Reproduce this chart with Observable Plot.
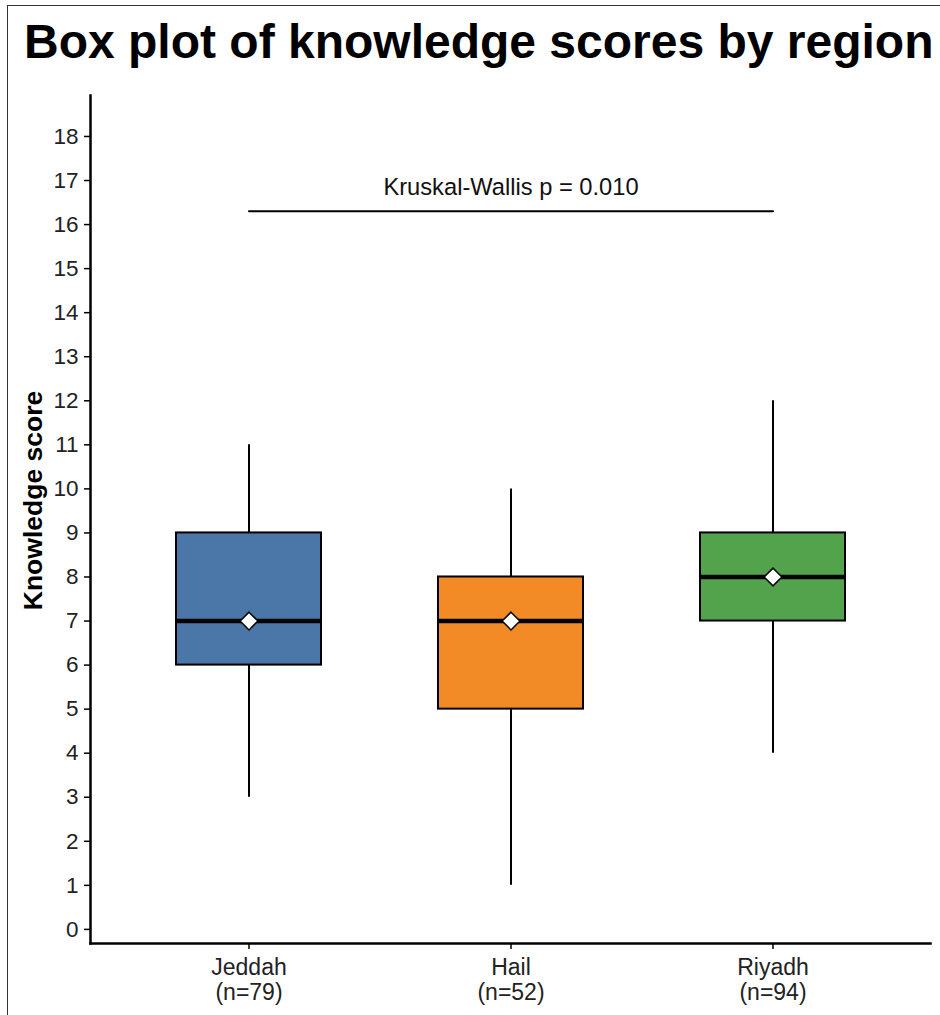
<!DOCTYPE html>
<html>
<head>
<meta charset="utf-8">
<script src="https://cdn.jsdelivr.net/npm/d3@7"></script>
<script src="https://cdn.jsdelivr.net/npm/@observablehq/plot@0.6"></script>
<style>
  html, body { margin: 0; padding: 0; background: #fff; }
  #wrap { position: relative; width: 940px; height: 1015px; overflow: hidden; font-family: "Liberation Sans", Arial, Helvetica, sans-serif; }
  #border { position: absolute; left: 7px; top: 5px; width: 940px; height: 1020px; border-left: 1.5px solid #333; border-top: 1.5px solid #333; box-sizing: border-box; }
  #title { position: absolute; left: 24px; top: 14px; font-size: 48px; font-weight: bold; color: #000; white-space: nowrap; }
  #chart { position: absolute; left: 0; top: 80px; }
</style>
</head>
<body>
<div id="wrap">
  <div id="border"></div>
  <div id="title">Box plot of knowledge scores by region</div>
  <div id="chart"></div>
</div>
<script>
const regions = ["Jeddah", "Hail", "Riyadh"];
const sampleSizes = [79, 52, 94];
const whiskerLow = [3, 1, 4];
const q1 = [6, 5, 7];
const medians = [7, 7, 8];
const q3 = [9, 8, 9];
const whiskerHigh = [11, 10, 12];
const means = [7, 7, 8];
const boxColors = ["#4a76a8", "#f28a26", "#53a34c"];
const yTicks = [0, 1, 2, 3, 4, 5, 6, 7, 8, 9, 10, 11, 12, 13, 14, 15, 16, 17, 18];
const testLabel = "Kruskal-Wallis p = 0.010";
const bracketFrom = "Jeddah";
const bracketTo = "Riyadh";
const bracketY = 16.3;
const yTitle = "Knowledge score";

const rows = regions.map((r, i) => ({
  region: r, n: sampleSizes[i], lo: whiskerLow[i], q1: q1[i], med: medians[i],
  q3: q3[i], hi: whiskerHigh[i], mean: means[i], color: boxColors[i]
}));
const nByRegion = new Map(regions.map((r, i) => [r, sampleSizes[i]]));

const plot = Plot.plot({
  width: 940,
  height: 935,
  marginLeft: 90,
  marginRight: 10,
  marginTop: 15,
  marginBottom: 72,
  style: { fontFamily: "'Liberation Sans', Arial, Helvetica, sans-serif", color: "#000", background: "transparent" },
  x: { type: "band", domain: regions, paddingInner: 0.448, paddingOuter: 0.324, label: null },
  y: { domain: [-0.32, 18.93], label: null },
  marks: [
    Plot.ruleX(rows, { x: "region", y1: "lo", y2: "hi", stroke: "#000", strokeWidth: 2 }),
    Plot.barY(rows, { x: "region", y1: "q1", y2: "q3", fill: "color", stroke: "#000", strokeWidth: 2 }),
    Plot.tickY(rows, { x: "region", y: "med", stroke: "#000", strokeWidth: 4.5 }),
    Plot.dot(rows, { x: "region", y: "mean", symbol: "diamond2", r: 8, fill: "#fff", stroke: "#000", strokeWidth: 1.5 }),
    Plot.line([{ x: bracketFrom, y: bracketY }, { x: bracketTo, y: bracketY }], { x: "x", y: "y", stroke: "#000", strokeWidth: 2 }),
    Plot.text([{ x: "Hail", y: bracketY }], { x: "x", y: "y", text: () => testLabel, fontSize: 23.7, lineAnchor: "bottom", dy: -16, fill: "#111" }),
    Plot.axisY({ ticks: yTicks, tickSize: 6, tickPadding: 6, fontSize: 22.5, tickFormat: d => String(d), label: null, stroke: "#000", strokeWidth: 1.5, fill: "#222" }),
    Plot.axisX({ tickSize: 6, tickPadding: 8, fontSize: 23, lineHeight: 1.08, tickFormat: d => `${d}\n(n=${nByRegion.get(d)})`, label: null, stroke: "#000", strokeWidth: 1.5, fill: "#222" }),
    Plot.frame({ anchor: "left", stroke: "#000", strokeWidth: 2.5 }),
    Plot.frame({ anchor: "bottom", stroke: "#000", strokeWidth: 2.5 }),
    Plot.text([yTitle], { frameAnchor: "left", text: d => d, rotate: -90, textAnchor: "middle", dx: -57, dy: -19, fontSize: 26.5, fontWeight: "bold", fill: "#000" })
  ]
});
document.getElementById("chart").appendChild(plot);
</script>
</body>
</html>
